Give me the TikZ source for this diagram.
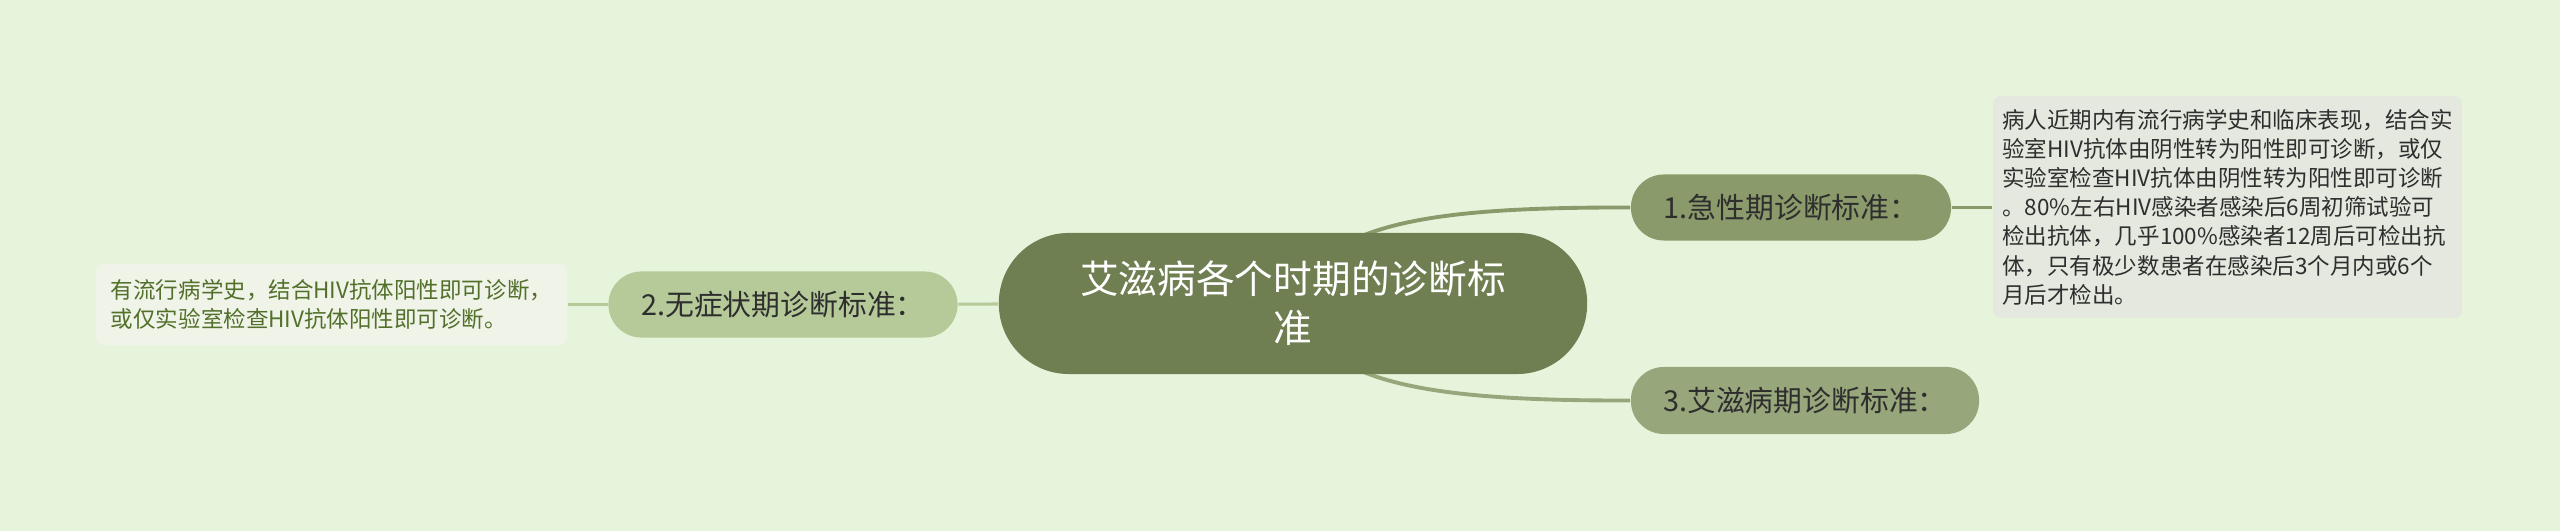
\documentclass[tikz,border=0pt]{standalone}
\usepackage{fontspec}
\setmainfont{Noto Sans CJK SC}
\usetikzlibrary{backgrounds}
\definecolor{bggreen}{HTML}{E7F4DC}
\definecolor{rootolive}{HTML}{707F52}
\definecolor{acuteolive}{HTML}{8A9A6B}
\definecolor{aidsolive}{HTML}{97A67B}
\definecolor{latentsage}{HTML}{B5C999}
\definecolor{notegrey}{HTML}{E4E8DE}
\definecolor{notepale}{HTML}{EFF3E8}
\definecolor{notegreen}{HTML}{52702A}
\colorlet{labeltext}{black!82}

\begin{document}
\begin{tikzpicture}[x=0.01cm, y=-0.01cm,
    topic/.style={fill=#1, text=labeltext, inner sep=0pt, minimum height=0.66cm,
        rounded corners=0.33cm, font=\fontsize{8.2pt}{10pt}\selectfont},
    note/.style={fill=#1, inner sep=0pt, rounded corners=0.08cm, align=left,
        font=\fontsize{6.4pt}{8.3pt}\selectfont}]
            \node[fill=rootolive, text=white, inner sep=0pt, minimum width=5.88cm, minimum height=1.41cm,
                rounded corners=0.7cm, align=center, font=\fontsize{11pt}{14pt}\selectfont]
                (root) at (1293,303.5) {艾滋病各个时期的诊断标\\准};
            \node[topic=acuteolive, minimum width=3.2cm] (acute) at (1791,207.5) {1.急性期诊断标准：};
            \node[topic=latentsage, minimum width=3.49cm] (latent) at (783,304.5) {2.无症状期诊断标准：};
            \node[topic=aidsolive, minimum width=3.48cm, minimum height=0.67cm] (aids) at (1805,400.5) {3.艾滋病期诊断标准：};
            \node[note=notegrey, text=labeltext, minimum width=4.69cm, minimum height=2.22cm]
                (acutenote) at (2227.5,207) {病人近期内有流行病学史和临床表现，结合实\\
                验室HIV抗体由阴性转为阳性即可诊断，或仅\\
                实验室检查HIV抗体由阴性转为阳性即可诊断\\
                。80\%左右HIV感染者感染后6周初筛试验可\\
                检出抗体，几乎100\%感染者12周后可检出抗\\
                体，只有极少数患者在感染后3个月内或6个\\
                月后才检出。};
            \node[note=notepale, text=notegreen, minimum width=4.71cm, minimum height=0.81cm]
                (latentnote) at (331.5,304.5) {有流行病学史，结合HIV抗体阳性即可诊断，\\
                或仅实验室检查HIV抗体阳性即可诊断。};
            \begin{scope}[on background layer]
                \fill[bggreen] (0,0) rectangle (2560,531);
                \draw[acuteolive, line width=1.1pt] (root.center) .. controls (1320,225) and (1420,207) .. (acute.west);
                \draw[aidsolive, line width=1.1pt] (root.center) .. controls (1320,382) and (1420,401) .. (aids.west);
                \draw[latentsage, line width=0.9pt] (latent) -- (root);
                \draw[acuteolive, line width=1.1pt] (acute.east) -- (acute.east -| acutenote.west);
                \draw[latentsage, line width=0.9pt] (latent.west) -- (latent.west -| latentnote.east);
            \end{scope}
            \useasboundingbox (0,0) rectangle (2560,531);
        \end{tikzpicture}
\end{document}
